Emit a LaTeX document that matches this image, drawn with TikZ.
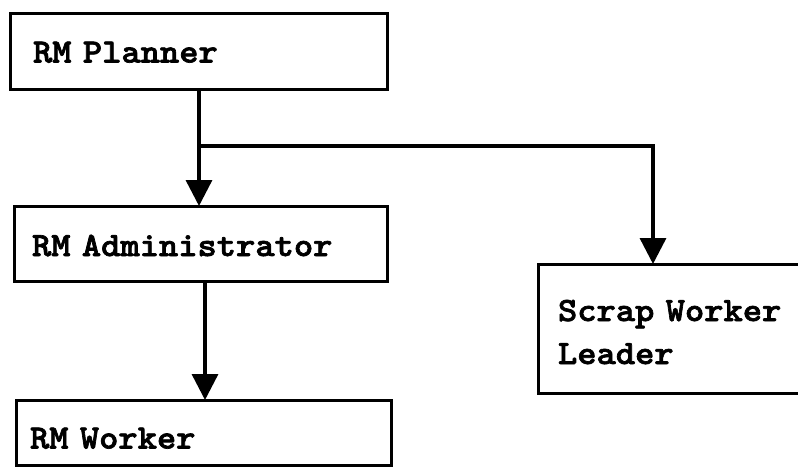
\documentclass[tikz,border=0pt]{standalone}
\usepackage{fontspec}
\newfontfamily\typer{lmmonolt10-bold.otf}[FakeStretch=1.08,FakeBold=2]
\usetikzlibrary{arrows.meta}

\tikzset{
  chartbox/.style={draw, line width=3pt, rectangle, anchor=north west, align=left,
    outer sep=0pt, inner ysep=0pt, text depth=0pt, font=\typer\fontsize{34}{43}\selectfont},
  flow/.style={line width=3.4pt, -{Triangle[width=26pt,length=26pt]}}
}

\begin{document}
\begin{tikzpicture}[x=1pt, y=-1pt]
  \clip (0,0) rectangle (798,469);
  \node[chartbox, inner xsep=23pt, text width=331pt, minimum height=76pt, text height=23pt] (planner) at (10,13) {RM Planner};
  \node[chartbox, inner xsep=18pt, text width=337pt, minimum height=75pt, text height=25pt] (admin) at (14,206) {RM Administrator};
  \node[chartbox, inner xsep=14pt, text width=347pt, minimum height=65pt, text height=32pt] (worker) at (16,400) {RM Worker};
  \node[chartbox, inner xsep=20pt, text width=260pt, minimum height=129pt, text height=0pt, text depth=15pt] (scrap) at (538,264) {Scrap Worker\\Leader};
  \coordinate (split) at (199,146);
  \coordinate (turn) at (653,146);
  \coordinate (down) at (205,0);
  \draw[line width=3.4pt] (planner.south -| split) -- (split);
  \draw[flow] (split) -- (admin.north -| split);
  \draw[flow] (split) -- (turn) -- (turn |- scrap.north);
  \draw[flow] (admin.south -| down) -- (worker.north -| down);
\end{tikzpicture}
\end{document}
